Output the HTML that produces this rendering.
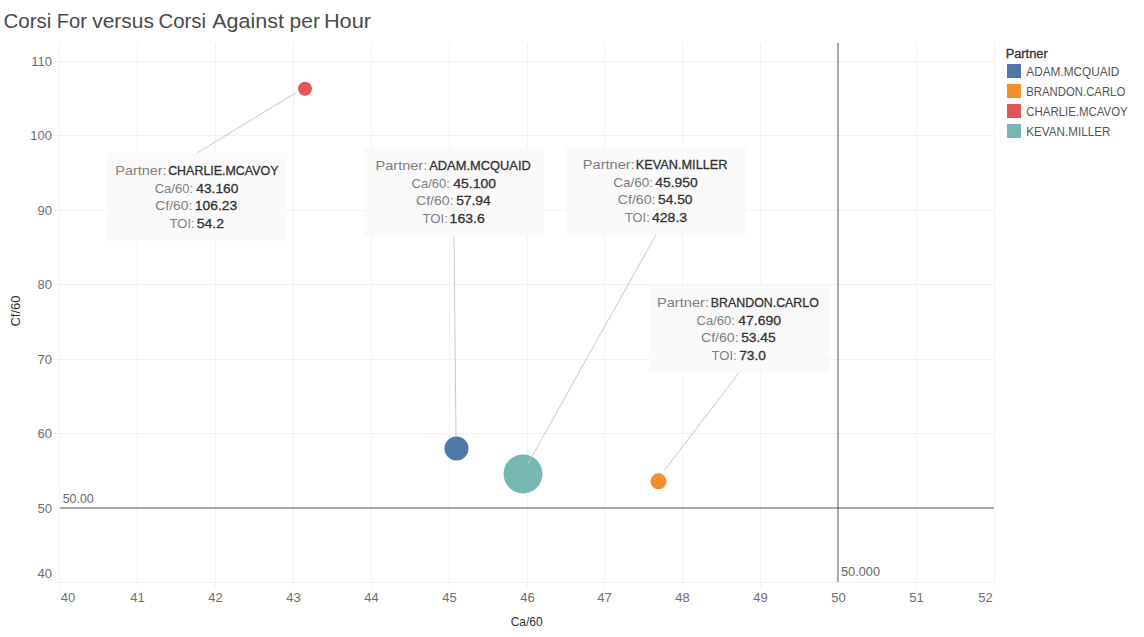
<!DOCTYPE html>
<html><head><meta charset="utf-8"><style>
html,body{margin:0;padding:0;background:#fff;width:1144px;height:637px;overflow:hidden}
svg{display:block;font-family:"Liberation Sans", sans-serif}
</style></head><body>
<svg width="1144" height="637" viewBox="0 0 1144 637">
<rect x="59" y="43" width="1" height="544" fill="#f2f2f2"/>
<rect x="137" y="43" width="1" height="544" fill="#f2f2f2"/>
<rect x="215" y="43" width="1" height="544" fill="#f2f2f2"/>
<rect x="293" y="43" width="1" height="544" fill="#f2f2f2"/>
<rect x="371" y="43" width="1" height="544" fill="#f2f2f2"/>
<rect x="449" y="43" width="1" height="544" fill="#f2f2f2"/>
<rect x="527" y="43" width="1" height="544" fill="#f2f2f2"/>
<rect x="604" y="43" width="1" height="544" fill="#f2f2f2"/>
<rect x="682" y="43" width="1" height="544" fill="#f2f2f2"/>
<rect x="760" y="43" width="1" height="544" fill="#f2f2f2"/>
<rect x="838" y="582" width="1" height="5" fill="#f2f2f2"/>
<rect x="916" y="43" width="1" height="544" fill="#f2f2f2"/>
<rect x="994" y="43" width="1" height="544" fill="#f2f2f2"/>
<rect x="54" y="61" width="941" height="1" fill="#f2f2f2"/>
<rect x="54" y="135" width="941" height="1" fill="#f2f2f2"/>
<rect x="54" y="210" width="941" height="1" fill="#f2f2f2"/>
<rect x="54" y="284" width="941" height="1" fill="#f2f2f2"/>
<rect x="54" y="359" width="941" height="1" fill="#f2f2f2"/>
<rect x="54" y="433" width="941" height="1" fill="#f2f2f2"/>
<rect x="54" y="508" width="6" height="1" fill="#f2f2f2"/>
<rect x="994" y="508" width="1" height="1" fill="#f2f2f2"/>
<rect x="54" y="582" width="941" height="1" fill="#f2f2f2"/>
<rect x="60" y="507" width="934" height="2" fill="#000" fill-opacity="0.33"/>
<rect x="837" y="43" width="2" height="539" fill="#000" fill-opacity="0.33"/>
<text x="52" y="66.0" font-size="13" fill="#6e6e6e" text-anchor="end" font-weight="normal">110</text>
<text x="52" y="140.0" font-size="13" fill="#6e6e6e" text-anchor="end" font-weight="normal">100</text>
<text x="52" y="215.0" font-size="13" fill="#6e6e6e" text-anchor="end" font-weight="normal">90</text>
<text x="52" y="289.0" font-size="13" fill="#6e6e6e" text-anchor="end" font-weight="normal">80</text>
<text x="52" y="364.0" font-size="13" fill="#6e6e6e" text-anchor="end" font-weight="normal">70</text>
<text x="52" y="438.0" font-size="13" fill="#6e6e6e" text-anchor="end" font-weight="normal">60</text>
<text x="52" y="513.0" font-size="13" fill="#6e6e6e" text-anchor="end" font-weight="normal">50</text>
<text x="52" y="578.1" font-size="13" fill="#6e6e6e" text-anchor="end" font-weight="normal">40</text>
<text x="68" y="602" font-size="13" fill="#6e6e6e" text-anchor="middle" font-weight="normal">40</text>
<text x="137.5" y="602" font-size="13" fill="#6e6e6e" text-anchor="middle" font-weight="normal">41</text>
<text x="215.5" y="602" font-size="13" fill="#6e6e6e" text-anchor="middle" font-weight="normal">42</text>
<text x="293.5" y="602" font-size="13" fill="#6e6e6e" text-anchor="middle" font-weight="normal">43</text>
<text x="371.5" y="602" font-size="13" fill="#6e6e6e" text-anchor="middle" font-weight="normal">44</text>
<text x="449.5" y="602" font-size="13" fill="#6e6e6e" text-anchor="middle" font-weight="normal">45</text>
<text x="527.5" y="602" font-size="13" fill="#6e6e6e" text-anchor="middle" font-weight="normal">46</text>
<text x="604.5" y="602" font-size="13" fill="#6e6e6e" text-anchor="middle" font-weight="normal">47</text>
<text x="682.5" y="602" font-size="13" fill="#6e6e6e" text-anchor="middle" font-weight="normal">48</text>
<text x="760.5" y="602" font-size="13" fill="#6e6e6e" text-anchor="middle" font-weight="normal">49</text>
<text x="838.5" y="602" font-size="13" fill="#6e6e6e" text-anchor="middle" font-weight="normal">50</text>
<text x="916.5" y="602" font-size="13" fill="#6e6e6e" text-anchor="middle" font-weight="normal">51</text>
<text x="985.4" y="602" font-size="13" fill="#6e6e6e" text-anchor="middle" font-weight="normal">52</text>
<text x="62.7" y="503" font-size="13" fill="#666" text-anchor="start" font-weight="normal" textLength="31" lengthAdjust="spacingAndGlyphs">50.00</text>
<text x="841" y="576.4" font-size="13" fill="#666" text-anchor="start" font-weight="normal" textLength="39" lengthAdjust="spacingAndGlyphs">50.000</text>
<text x="526.7" y="626" font-size="13" fill="#333" text-anchor="middle" font-weight="normal" textLength="32" lengthAdjust="spacingAndGlyphs">Ca/60</text>
<text transform="translate(20,311) rotate(-90)" x="0" y="0" font-size="13" fill="#333" text-anchor="middle">Cf/60</text>
<text x="3.4000000000000004" y="28" font-size="20" fill="#4a4a4a" text-anchor="start" font-weight="normal" textLength="48.0" lengthAdjust="spacingAndGlyphs">Corsi</text>
<text x="56.8" y="28" font-size="20" fill="#4a4a4a" text-anchor="start" font-weight="normal" textLength="30.2" lengthAdjust="spacingAndGlyphs">For</text>
<text x="92.2" y="28" font-size="20" fill="#4a4a4a" text-anchor="start" font-weight="normal" textLength="61.8" lengthAdjust="spacingAndGlyphs">versus</text>
<text x="158.5" y="28" font-size="20" fill="#4a4a4a" text-anchor="start" font-weight="normal" textLength="47.6" lengthAdjust="spacingAndGlyphs">Corsi</text>
<text x="212.2" y="28" font-size="20" fill="#4a4a4a" text-anchor="start" font-weight="normal" textLength="71.8" lengthAdjust="spacingAndGlyphs">Against</text>
<text x="289.59999999999997" y="28" font-size="20" fill="#4a4a4a" text-anchor="start" font-weight="normal" textLength="30.3" lengthAdjust="spacingAndGlyphs">per</text>
<text x="323.9" y="28" font-size="20" fill="#4a4a4a" text-anchor="start" font-weight="normal" textLength="47.2" lengthAdjust="spacingAndGlyphs">Hour</text>
<circle cx="305" cy="88.8" r="7" fill="#e15759"/>
<circle cx="456.5" cy="448.5" r="12" fill="#4e79a7"/>
<circle cx="523" cy="473.9" r="19.5" fill="#76b7b2"/>
<circle cx="658.5" cy="481.3" r="8" fill="#f28e2b"/>
<line x1="197" y1="153" x2="295.6" y2="92.9" stroke="#c8c8c8" stroke-width="1"/>
<line x1="454" y1="236" x2="456" y2="436" stroke="#c8c8c8" stroke-width="1"/>
<line x1="655.8" y1="235" x2="527.5" y2="464.5" stroke="#c8c8c8" stroke-width="1"/>
<line x1="738.8" y1="373" x2="664" y2="471" stroke="#c8c8c8" stroke-width="1"/>
<rect x="107" y="153" width="180" height="88" fill="#f9f9f9" fill-opacity="0.9"/>
<rect x="364" y="148" width="180" height="88" fill="#f9f9f9" fill-opacity="0.9"/>
<rect x="566" y="147" width="180" height="88" fill="#f9f9f9" fill-opacity="0.9"/>
<rect x="649" y="285" width="180" height="88" fill="#f9f9f9" fill-opacity="0.9"/>
<text x="115.30" y="175.0" font-size="13" fill="#7f7f7f" textLength="51.27" lengthAdjust="spacingAndGlyphs">Partner:</text>
<text x="168.15" y="175.0" font-size="13" fill="#333" stroke="#333" stroke-width="0.3" textLength="110.36" lengthAdjust="spacingAndGlyphs">CHARLIE.MCAVOY</text>
<text x="154.66" y="192.6" font-size="13" fill="#7f7f7f" textLength="38.40" lengthAdjust="spacingAndGlyphs">Ca/60:</text>
<text x="196.34" y="192.6" font-size="13" fill="#333" stroke="#333" stroke-width="0.3" textLength="42.00" lengthAdjust="spacingAndGlyphs">43.160</text>
<text x="155.32" y="210.2" font-size="13" fill="#7f7f7f" textLength="37.08" lengthAdjust="spacingAndGlyphs">Cf/60:</text>
<text x="194.79" y="210.2" font-size="13" fill="#333" stroke="#333" stroke-width="0.3" textLength="42.38" lengthAdjust="spacingAndGlyphs">106.23</text>
<text x="169.66" y="227.8" font-size="13" fill="#7f7f7f" textLength="24.91" lengthAdjust="spacingAndGlyphs">TOI:</text>
<text x="196.81" y="227.8" font-size="13" fill="#333" stroke="#333" stroke-width="0.3" textLength="27.21" lengthAdjust="spacingAndGlyphs">54.2</text>
<text x="375.62" y="170.0" font-size="13" fill="#7f7f7f" textLength="51.61" lengthAdjust="spacingAndGlyphs">Partner:</text>
<text x="429.15" y="170.0" font-size="13" fill="#333" stroke="#333" stroke-width="0.3" textLength="101.70" lengthAdjust="spacingAndGlyphs">ADAM.MCQUAID</text>
<text x="411.49" y="187.6" font-size="13" fill="#7f7f7f" textLength="38.40" lengthAdjust="spacingAndGlyphs">Ca/60:</text>
<text x="453.17" y="187.6" font-size="13" fill="#333" stroke="#333" stroke-width="0.3" textLength="42.85" lengthAdjust="spacingAndGlyphs">45.100</text>
<text x="415.98" y="205.2" font-size="13" fill="#7f7f7f" textLength="37.59" lengthAdjust="spacingAndGlyphs">Cf/60:</text>
<text x="456.15" y="205.2" font-size="13" fill="#333" stroke="#333" stroke-width="0.3" textLength="34.51" lengthAdjust="spacingAndGlyphs">57.94</text>
<text x="422.49" y="222.8" font-size="13" fill="#7f7f7f" textLength="25.42" lengthAdjust="spacingAndGlyphs">TOI:</text>
<text x="449.62" y="222.8" font-size="13" fill="#333" stroke="#333" stroke-width="0.3" textLength="35.23" lengthAdjust="spacingAndGlyphs">163.6</text>
<text x="582.79" y="169.0" font-size="13" fill="#7f7f7f" textLength="51.95" lengthAdjust="spacingAndGlyphs">Partner:</text>
<text x="635.79" y="169.0" font-size="13" fill="#333" stroke="#333" stroke-width="0.3" textLength="91.72" lengthAdjust="spacingAndGlyphs">KEVAN.MILLER</text>
<text x="613.15" y="186.6" font-size="13" fill="#7f7f7f" textLength="39.76" lengthAdjust="spacingAndGlyphs">Ca/60:</text>
<text x="655.34" y="186.6" font-size="13" fill="#333" stroke="#333" stroke-width="0.3" textLength="42.34" lengthAdjust="spacingAndGlyphs">45.950</text>
<text x="617.81" y="204.2" font-size="13" fill="#7f7f7f" textLength="37.74" lengthAdjust="spacingAndGlyphs">Cf/60:</text>
<text x="657.98" y="204.2" font-size="13" fill="#333" stroke="#333" stroke-width="0.3" textLength="34.51" lengthAdjust="spacingAndGlyphs">54.50</text>
<text x="625.00" y="221.8" font-size="13" fill="#7f7f7f" textLength="24.74" lengthAdjust="spacingAndGlyphs">TOI:</text>
<text x="651.98" y="221.8" font-size="13" fill="#333" stroke="#333" stroke-width="0.3" textLength="35.21" lengthAdjust="spacingAndGlyphs">428.3</text>
<text x="656.96" y="307.0" font-size="13" fill="#7f7f7f" textLength="52.12" lengthAdjust="spacingAndGlyphs">Partner:</text>
<text x="710.81" y="307.0" font-size="13" fill="#333" stroke="#333" stroke-width="0.3" textLength="108.02" lengthAdjust="spacingAndGlyphs">BRANDON.CARLO</text>
<text x="696.49" y="324.6" font-size="13" fill="#7f7f7f" textLength="38.40" lengthAdjust="spacingAndGlyphs">Ca/60:</text>
<text x="738.17" y="324.6" font-size="13" fill="#333" stroke="#333" stroke-width="0.3" textLength="42.85" lengthAdjust="spacingAndGlyphs">47.690</text>
<text x="700.98" y="342.2" font-size="13" fill="#7f7f7f" textLength="37.59" lengthAdjust="spacingAndGlyphs">Cf/60:</text>
<text x="741.15" y="342.2" font-size="13" fill="#333" stroke="#333" stroke-width="0.3" textLength="34.53" lengthAdjust="spacingAndGlyphs">53.45</text>
<text x="711.51" y="359.8" font-size="13" fill="#7f7f7f" textLength="25.23" lengthAdjust="spacingAndGlyphs">TOI:</text>
<text x="739.15" y="359.8" font-size="13" fill="#333" stroke="#333" stroke-width="0.3" textLength="26.68" lengthAdjust="spacingAndGlyphs">73.0</text>
<text x="1005.7" y="57.8" font-size="12" fill="#333" text-anchor="start" font-weight="normal" textLength="42" lengthAdjust="spacingAndGlyphs" stroke="#333" stroke-width="0.3">Partner</text>
<rect x="1007" y="64" width="14" height="14" fill="#4e79a7"/>
<text x="1026.3" y="75.9" font-size="12" fill="#555" text-anchor="start" font-weight="normal" textLength="93.1" lengthAdjust="spacingAndGlyphs">ADAM.MCQUAID</text>
<rect x="1007" y="84" width="14" height="14" fill="#f28e2b"/>
<text x="1026.3" y="95.9" font-size="12" fill="#555" text-anchor="start" font-weight="normal" textLength="98.9" lengthAdjust="spacingAndGlyphs">BRANDON.CARLO</text>
<rect x="1007" y="104" width="14" height="14" fill="#e15759"/>
<text x="1026.3" y="115.9" font-size="12" fill="#555" text-anchor="start" font-weight="normal" textLength="101.4" lengthAdjust="spacingAndGlyphs">CHARLIE.MCAVOY</text>
<rect x="1007" y="124" width="14" height="14" fill="#76b7b2"/>
<text x="1026.3" y="135.9" font-size="12" fill="#555" text-anchor="start" font-weight="normal" textLength="84.1" lengthAdjust="spacingAndGlyphs">KEVAN.MILLER</text>
</svg></body></html>
